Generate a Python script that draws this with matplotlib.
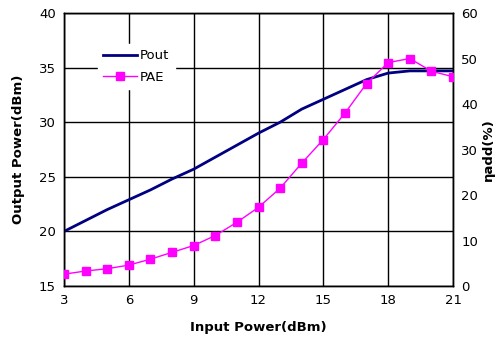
import numpy as np
import matplotlib
matplotlib.use("Agg")
import matplotlib.pyplot as plt

input_power = [3, 4, 5, 6, 7, 8, 9, 10, 11, 12, 13, 14, 15, 16, 17, 18, 19, 20, 21]
pout = [20.0, 21.0, 22.0, 22.9, 23.8, 24.8, 25.7, 26.8, 27.9, 29.0, 30.0, 31.2,
        32.1, 33.0, 33.9, 34.5, 34.7, 34.7, 34.7]
pae = [2.6, 3.3, 3.8, 4.6, 5.9, 7.4, 8.9, 11.1, 14.0, 17.3, 21.5, 27.0,
       32.2, 38.0, 44.5, 49.1, 50.0, 47.2, 46.0]

x_ticks = [3, 6, 9, 12, 15, 18, 21]
left_ticks = [15, 20, 25, 30, 35, 40]
right_ticks = [0, 10, 20, 30, 40, 50, 60]

plt.rcParams['font.family'] = ['DejaVu Sans']

fig = plt.figure(figsize=(4.97, 3.38), dpi=100)
ax = fig.add_axes([0.1288, 0.1538, 0.7827, 0.8077])
ax2 = ax.twinx()

ax.set_xlim(3, 21)
ax.set_ylim(15, 40)
ax2.set_ylim(0, 60)
ax.set_xticks(x_ticks)
ax.set_yticks(left_ticks)
ax2.set_yticks(right_ticks)
ax.grid(True, color="black", linewidth=1.0)
ax.tick_params(length=0, labelsize=9.5, pad=6)
ax2.tick_params(length=0, labelsize=9.5, pad=6)
for a in (ax, ax2):
    for s in a.spines.values():
        s.set_color("black")
        s.set_linewidth(1.0)

l1, = ax.plot(input_power, pout, color="#000080", linewidth=2, label="Pout", zorder=3)
l2, = ax2.plot(input_power, pae, color="#FF00FF", linewidth=1, marker="s",
               markersize=6, label="PAE", zorder=3)

ax.set_xlabel("Input Power(dBm)", fontsize=9.5, fontweight="bold", labelpad=10)
ax.set_ylabel("Output Power(dBm)", fontsize=9.5, fontweight="bold", labelpad=10)
fig.text(488 / 497, 1 - 150 / 338, "ηadd(%)", fontsize=9.5, fontweight="bold",
         rotation=90, ha="center", va="center")

leg = ax2.legend([l1, l2], ["Pout", "PAE"], loc="upper left",
                 bbox_to_anchor=(0.07, 0.91), frameon=True, fontsize=9.5,
                 handlelength=2.6, handletextpad=0.2, borderpad=0.4,
                 labelspacing=0.65, fancybox=False)
leg.get_frame().set_edgecolor("white")
leg.get_frame().set_facecolor("white")
leg.get_frame().set_alpha(1)

fig.savefig("out.png", dpi=100)
